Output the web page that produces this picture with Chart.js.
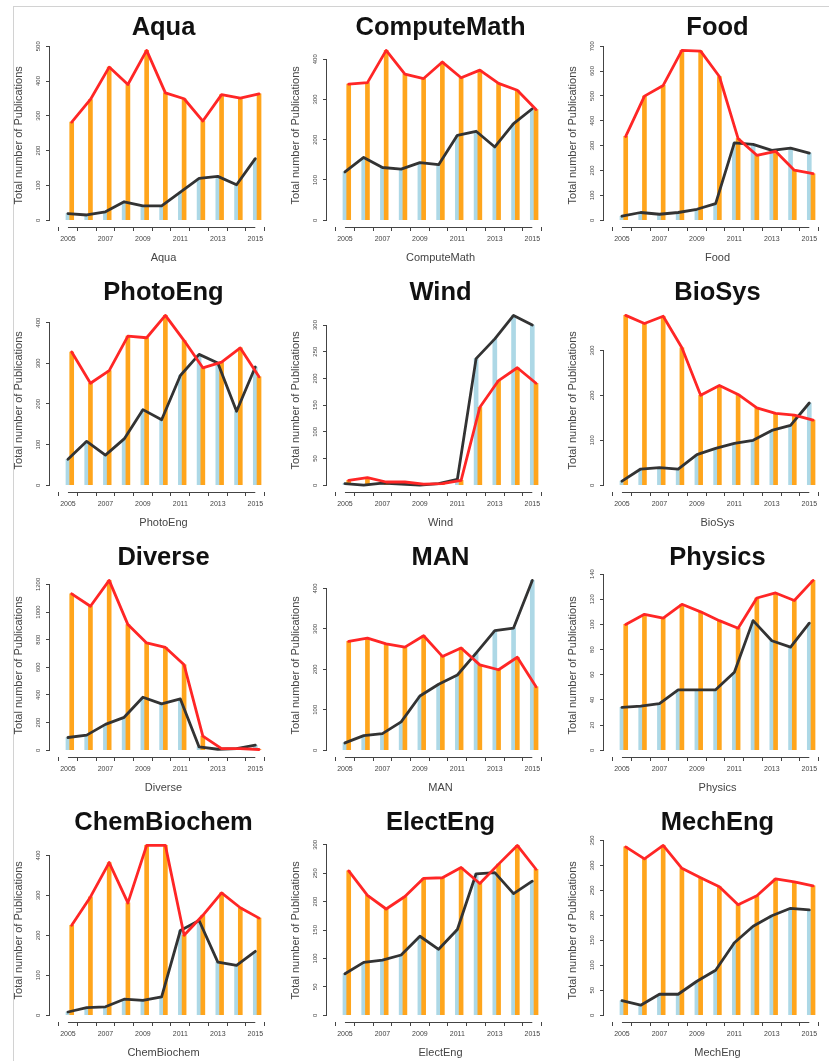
<!DOCTYPE html>
<html>
<head>
<meta charset="utf-8">
<script src="https://cdn.jsdelivr.net/npm/chart.js@4.4.1/dist/chart.umd.min.js"></script>
<style>
body{margin:0;background:#fff;width:829px;height:1061px;overflow:hidden;position:relative}
#frame{position:absolute;left:13px;top:6px;width:900px;height:1100px;border-top:1.5px solid #d2d2d2;border-left:1.5px solid #d2d2d2}
canvas{position:absolute}
</style>
</head>
<body>
<div id="frame"></div>
<script>
// years on the x axis
const years = [2005, 2006, 2007, 2008, 2009, 2010, 2011, 2012, 2013, 2014, 2015]
// only every other year gets a label
const xTickLabels = ["2005", "2007", "2009", "2011", "2013", "2015"]
// one panel per field
const fields = ["Aqua", "ComputeMath", "Food", "PhotoEng", "Wind", "BioSys",
    "Diverse", "MAN", "Physics", "ChemBiochem", "ElectEng", "MechEng"]
// orange bars + red line
const redSeries = [
    [282, 347, 440, 390, 488, 366, 349, 285, 361, 351, 363],
    [338, 342, 422, 363, 352, 393, 354, 373, 340, 323, 275],
    [337, 499, 542, 683, 680, 578, 328, 261, 277, 201, 187],
    [328, 251, 282, 367, 363, 418, 356, 289, 303, 338, 267],
    [9, 14, 6, 6, 2, 3, 9, 146, 196, 220, 191],
    [378, 360, 376, 306, 200, 222, 202, 172, 160, 156, 145],
    [1132, 1042, 1229, 909, 776, 744, 618, 102, 12, 12, 5],
    [269, 277, 263, 255, 283, 232, 253, 211, 199, 230, 157],
    [100, 108, 105, 116, 110, 103, 97, 121, 125, 119, 135],
    [225, 296, 382, 281, 425, 425, 200, 250, 306, 269, 243],
    [254, 211, 187, 209, 241, 242, 260, 232, 266, 299, 257],
    [337, 313, 340, 294, 275, 257, 221, 239, 273, 267, 259]
]
// light blue bars + black line
const blackSeries = [
    [19, 15, 24, 53, 41, 41, 81, 120, 126, 102, 177],
    [120, 156, 131, 127, 143, 138, 211, 221, 182, 240, 277],
    [16, 31, 24, 31, 44, 67, 311, 305, 281, 290, 270],
    [64, 108, 74, 114, 186, 161, 270, 322, 301, 182, 291],
    [3, 0, 4, 2, 0, 3, 11, 237, 274, 318, 300],
    [9, 36, 39, 36, 68, 82, 93, 100, 122, 133, 183],
    [92, 109, 187, 238, 383, 335, 371, 24, 7, 12, 36],
    [18, 36, 41, 70, 134, 163, 186, 240, 296, 302, 420],
    [34, 35, 37, 48, 48, 48, 62, 103, 87, 82, 101],
    [8, 19, 21, 40, 37, 46, 212, 237, 133, 125, 160],
    [73, 93, 97, 106, 139, 116, 151, 249, 251, 214, 236],
    [29, 20, 42, 42, 68, 90, 145, 178, 199, 214, 211]
]
// y tick spacing of each panel
const yTickStep = [100, 100, 100, 100, 50, 100, 200, 100, 20, 100, 50, 50]

const PW = 277, PH = 265
const SHIFT = 0.2 // orange bar sits just right of the blue one
const ORANGE = "#ffa51c", BLUE = "#add8e6", RED = "#ff2626", DARK = "#333333", AXIS = "#444444"
Chart.defaults.font.family = "'Liberation Sans', Arial, sans-serif"

// R style axes: line only from first to last tick, y labels turned 90 degrees
const rAxes = {
    id: "rAxes",
    afterDraw(chart) {
        let ctx = chart.ctx
        let xs = chart.scales.x, ys = chart.scales.y
        ctx.save()
        ctx.strokeStyle = AXIS
        ctx.lineWidth = 1
        let yLine = Math.round(xs.top) + 0.5
        ctx.beginPath()
        ctx.moveTo(xs.getPixelForValue(xs.ticks[0].value), yLine)
        ctx.lineTo(xs.getPixelForValue(xs.ticks[xs.ticks.length - 1].value), yLine)
        ctx.stroke()
        let xLine = Math.round(ys.right) - 0.5
        ctx.beginPath()
        ctx.moveTo(xLine, ys.getPixelForValue(ys.ticks[0].value))
        ctx.lineTo(xLine, ys.getPixelForValue(ys.ticks[ys.ticks.length - 1].value))
        ctx.stroke()
        ctx.fillStyle = AXIS
        ctx.font = "6px 'Liberation Sans', Arial, sans-serif"
        ctx.textAlign = "center"
        ctx.textBaseline = "middle"
        ys.ticks.forEach(function (t) {
            ctx.save()
            ctx.translate(ys.right - 12, ys.getPixelForValue(t.value))
            ctx.rotate(-Math.PI / 2)
            ctx.fillText(String(t.value), 0, 0)
            ctx.restore()
        })
        ctx.restore()
    }
}

function makePanel(i) {
    let canvas = document.createElement("canvas")
    canvas.width = PW
    canvas.height = PH
    canvas.style.left = (i % 3) * PW + "px"
    canvas.style.top = Math.floor(i / 3) * PH + "px"
    document.body.appendChild(canvas)

    let red = redSeries[i], black = blackSeries[i]
    let top = Math.max(...red, ...black)
    let step = yTickStep[i]
    let span = years[years.length - 1] + SHIFT - years[0]

    new Chart(canvas.getContext("2d"), {
        type: "bar",
        data: {
            datasets: [
                {
                    type: "line", order: 0,
                    data: years.map((y, k) => ({ x: y + SHIFT, y: red[k] })),
                    borderColor: RED, borderWidth: 2.8, pointRadius: 0, tension: 0,
                    borderJoinStyle: "round", borderCapStyle: "round"
                },
                {
                    type: "line", order: 1,
                    data: years.map((y, k) => ({ x: y, y: black[k] })),
                    borderColor: DARK, borderWidth: 2.8, pointRadius: 0, tension: 0,
                    borderJoinStyle: "round", borderCapStyle: "round"
                },
                {
                    type: "bar", order: 2,
                    data: years.map((y, k) => ({ x: y + SHIFT, y: red[k] })),
                    backgroundColor: ORANGE, barThickness: 4, grouped: false
                },
                {
                    type: "bar", order: 3,
                    data: years.map((y, k) => ({ x: y, y: black[k] })),
                    backgroundColor: BLUE, barThickness: 4, grouped: false
                }
            ]
        },
        options: {
            responsive: false,
            animation: false,
            layout: { padding: 0 },
            plugins: {
                legend: { display: false },
                tooltip: { enabled: false },
                title: {
                    display: true, text: fields[i], fullSize: false,
                    font: { size: 25.5, weight: "bold" }, color: "#111",
                    padding: { top: 13, bottom: 0 }
                }
            },
            scales: {
                x: {
                    type: "linear",
                    min: years[0] - 0.04 * span,
                    max: years[years.length - 1] + SHIFT + 0.04 * span,
                    afterBuildTicks: function (s) { s.ticks = years.map(v => ({ value: v })) },
                    afterFit: function (s) { s.height = 38 },
                    ticks: {
                        callback: v => xTickLabels.includes(String(v)) ? String(v) : "",
                        font: { size: 7 }, color: AXIS, padding: 4,
                        autoSkip: false, maxRotation: 0, minRotation: 0
                    },
                    grid: { drawOnChartArea: false, tickLength: 4, color: AXIS },
                    border: { display: false },
                    title: {
                        display: true, text: fields[i], font: { size: 11 }, color: AXIS,
                        padding: { top: 0, bottom: 0.5 }
                    }
                },
                y: {
                    min: -0.04 * top,
                    max: 1.04 * top,
                    afterBuildTicks: function (s) {
                        let t = []
                        for (let v = 0; v <= s.max; v += step) t.push({ value: v })
                        s.ticks = t
                    },
                    afterFit: function (s) { s.width = 50 },
                    ticks: { display: false },
                    grid: { drawOnChartArea: false, tickLength: 4, color: AXIS },
                    border: { display: false },
                    title: {
                        display: true, text: "Total number of Publications",
                        font: { size: 11 }, color: AXIS,
                        padding: { top: 12.4, bottom: 0 }
                    }
                }
            }
        },
        plugins: [rAxes]
    })
}

for (let i = 0; i < fields.length; i++) {
    makePanel(i)
}
</script>
</body>
</html>
